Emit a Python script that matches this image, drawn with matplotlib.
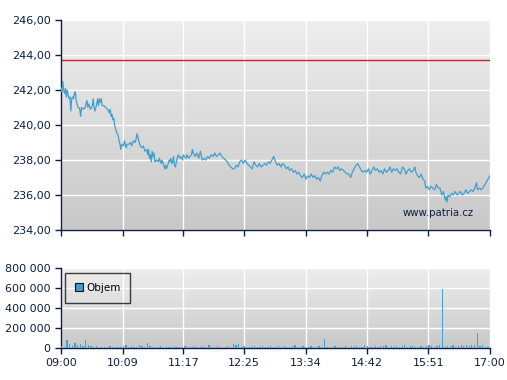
"""Intraday price and volume chart (patria.cz style)."""
import numpy as np
import matplotlib.pyplot as plt
from matplotlib.colors import LinearSegmentedColormap
from matplotlib.ticker import FuncFormatter

# --- data -----------------------------------------------------------------
# (minutes after 09:00, price)
price_points = [
    (0, 242.1), (1, 241.9), (2, 242.5), (3, 242.0), (4, 241.8), (5, 242.1),
    (6, 241.6), (7, 242.0), (8, 241.7), (9, 241.5), (10, 241.6), (11, 240.8),
    (12, 241.5), (13, 241.6), (14, 241.5), (15, 241.8), (16, 241.9), (17, 241.4),
    (18, 241.2), (19, 241.0), (20, 241.0), (21, 240.9), (22, 240.5), (23, 241.0),
    (25, 240.9), (27, 241.0), (29, 241.4), (30, 241.0), (31, 241.2), (33, 240.9),
    (35, 241.1), (36, 241.5), (37, 241.0), (38, 240.8), (40, 241.2), (41, 241.5),
    (42, 241.1), (43, 241.5), (44, 241.3), (45, 241.5), (46, 241.1), (48, 241.1),
    (50, 241.0), (52, 240.9), (54, 240.7), (55, 240.9), (56, 240.5), (57, 240.6),
    (58, 240.3), (59, 240.4), (60, 240.0), (62, 239.6), (64, 239.4), (65, 239.1),
    (66, 238.9), (67, 238.6), (68, 238.9), (70, 238.8), (71, 239.1), (72, 238.9),
    (73, 238.7), (74, 238.9), (76, 238.9), (78, 239.0), (79, 238.8), (81, 239.1),
    (83, 239.0), (84, 239.2), (85, 239.5), (86, 239.3), (87, 239.1), (88, 238.9),
    (90, 238.7), (92, 238.8), (94, 238.5), (96, 238.6), (97, 238.3), (98, 238.6),
    (99, 238.1), (100, 238.3), (101, 237.9), (102, 238.5), (103, 238.2), (104, 238.4),
    (105, 237.9), (107, 238.0), (109, 237.9), (110, 238.1), (112, 237.8), (113, 238.0),
    (115, 237.7), (116, 237.5), (117, 237.7), (118, 237.5), (120, 237.8), (121, 238.0),
    (122, 237.9), (123, 238.1), (124, 237.8), (125, 237.9), (126, 238.2), (127, 237.7),
    (128, 237.6), (130, 238.1), (131, 238.3), (133, 238.1), (134, 238.2), (136, 238.0),
    (137, 238.3), (138, 238.2), (140, 238.1), (141, 238.3), (143, 238.1), (144, 238.2),
    (146, 238.3), (147, 238.6), (148, 238.4), (150, 238.2), (152, 238.4), (154, 238.1),
    (156, 238.5), (158, 238.0), (160, 238.1), (162, 238.0), (164, 238.2), (166, 238.1),
    (168, 238.3), (170, 238.2), (172, 238.4), (174, 238.2), (176, 238.3), (178, 238.4),
    (180, 238.2), (182, 238.1), (184, 238.0), (186, 237.9), (188, 237.7), (190, 237.6),
    (192, 237.5), (194, 237.5), (196, 237.7), (198, 237.6), (200, 237.9), (202, 238.0),
    (204, 237.8), (206, 238.0), (208, 237.8), (210, 237.7), (212, 237.6), (214, 237.5),
    (216, 237.9), (218, 237.7), (220, 237.6), (222, 237.8), (224, 237.6), (226, 237.7),
    (228, 237.8), (230, 237.7), (232, 237.9), (234, 237.8), (236, 238.0), (238, 238.2),
    (240, 237.9), (242, 237.7), (244, 237.8), (246, 237.6), (248, 237.8), (250, 237.7),
    (252, 237.5), (254, 237.6), (256, 237.4), (258, 237.5), (260, 237.3), (262, 237.4),
    (264, 237.2), (266, 237.3), (268, 237.1), (270, 237.0), (272, 237.2), (274, 236.9),
    (276, 237.1), (278, 237.0), (280, 237.2), (282, 237.0), (284, 237.1), (286, 236.9),
    (288, 237.0), (290, 236.8), (292, 237.1), (294, 237.3), (296, 237.2), (298, 237.3),
    (300, 237.2), (302, 237.4), (304, 237.3), (306, 237.6), (308, 237.5), (310, 237.6),
    (312, 237.4), (314, 237.5), (316, 237.4), (318, 237.3), (320, 237.2), (322, 237.2),
    (324, 237.0), (326, 237.3), (328, 237.5), (330, 237.7), (332, 237.8), (334, 237.6),
    (336, 237.4), (338, 237.3), (340, 237.4), (342, 237.3), (344, 237.5), (346, 237.2),
    (348, 237.4), (350, 237.6), (352, 237.4), (354, 237.5), (356, 237.3), (358, 237.4),
    (360, 237.2), (362, 237.5), (364, 237.3), (366, 237.4), (368, 237.6), (370, 237.3),
    (372, 237.5), (374, 237.4), (376, 237.5), (378, 237.3), (380, 237.2), (382, 237.6),
    (384, 237.5), (386, 237.2), (388, 237.4), (390, 237.5), (392, 237.3), (394, 237.4),
    (396, 237.6), (397, 237.3), (399, 237.1), (401, 237.0), (403, 237.2), (405, 236.9),
    (407, 236.8), (408, 236.4), (410, 236.5), (412, 236.3), (414, 236.5), (416, 236.4),
    (418, 236.3), (420, 236.6), (422, 236.4), (424, 236.4), (426, 236.0), (428, 236.2),
    (430, 235.7), (431, 235.9), (432, 235.6), (433, 236.0), (435, 235.9), (437, 236.1),
    (439, 236.0), (441, 236.2), (443, 236.0), (445, 236.1), (447, 236.2), (449, 236.0),
    (451, 236.1), (453, 236.3), (455, 236.1), (457, 236.2), (459, 236.3), (461, 236.2),
    (463, 236.4), (465, 236.7), (466, 236.3), (468, 236.4), (470, 236.3), (472, 236.4),
    (480, 237.1),
]
price_min = [t for t, _ in price_points]
price_val = [p for _, p in price_points]
ref_price = 243.7

# traded volume, one value per 3-minute slot starting at 09:00
vol_step = 3
volume = [
    20000, 15000, 77000, 40000, 25000, 50000, 30000, 45000, 20000, 77000,
    35000, 25000, 15000, 20000, 10000, 15000, 10000, 12000, 20000, 15000,
    10000, 15000, 10000, 25000, 30000, 10000, 20000, 15000, 10000, 35000,
    20000, 15000, 50000, 20000, 15000, 12000, 10000, 20000, 15000, 10000,
    15000, 10000, 20000, 12000, 10000, 15000, 20000, 10000, 15000, 12000,
    25000, 10000, 15000, 20000, 10000, 30000, 15000, 10000, 20000, 15000,
    10000, 15000, 20000, 12000, 40000, 30000, 45000, 15000, 20000, 10000,
    15000, 12000, 20000, 15000, 10000, 25000, 15000, 10000, 20000, 12000,
    15000, 20000, 10000, 25000, 15000, 10000, 20000, 30000, 15000, 10000,
    20000, 15000, 12000, 20000, 10000, 15000, 20000, 10000, 87000, 15000,
    10000, 15000, 20000, 10000, 15000, 12000, 20000, 10000, 25000, 15000,
    20000, 10000, 15000, 35000, 20000, 15000, 10000, 20000, 15000, 25000,
    20000, 30000, 15000, 20000, 10000, 25000, 15000, 20000, 30000, 15000,
    20000, 25000, 15000, 10000, 20000, 15000, 25000, 30000, 20000, 15000,
    20000, 30000, 590000, 15000, 20000, 25000, 30000, 15000, 20000, 35000,
    25000, 30000, 20000, 35000, 30000, 150000, 25000, 30000, 10000, 15000,
]

x_ticks = [0, 69, 137, 205, 274, 342, 411, 480]
x_labels = ["09:00", "10:09", "11:17", "12:25", "13:34", "14:42", "15:51", "17:00"]

# --- style ------------------------------------------------------------------
navy = "#0b1e45"
blue = "#3f9fd0"
plt.rcParams["font.family"] = ["DejaVu Sans"]
plt.rcParams["font.size"] = 8

bg_cmap = LinearSegmentedColormap.from_list("bg", ["#eeeeee", "#c8c8c8"])


def style(ax):
    ax.set_facecolor("none")
    for side in ("top", "right"):
        ax.spines[side].set_visible(False)
    for side in ("left", "bottom"):
        ax.spines[side].set_color(navy)
        ax.spines[side].set_linewidth(1.0)
    ax.tick_params(colors=navy, labelcolor=navy, length=4, width=1.0, labelsize=8)
    ax.grid(True, color="white", linewidth=1.0, zorder=1)
    ax.set_axisbelow(True)
    # vertical background gradient
    grad = np.linspace(0, 1, 256).reshape(-1, 1)
    ax.imshow(grad, cmap=bg_cmap, aspect="auto", extent=(0, 1, 0, 1),
              transform=ax.transAxes, zorder=0)
    ax.set_xlim(0, 480)
    ax.set_xticks(x_ticks)


fig = plt.figure(figsize=(5.07, 3.8), dpi=100)
ax = fig.add_axes([61 / 507, 1 - 230 / 380, 429 / 507, 210 / 380])
axv = fig.add_axes([61 / 507, 1 - 348 / 380, 429 / 507, 80 / 380])

# price panel
style(ax)
ax.plot(price_min, price_val, color=blue, linewidth=0.9, zorder=3)
ax.axhline(ref_price, color="#d92020", linewidth=1, zorder=2)
ax.set_ylim(234, 246)
ax.set_yticks(np.arange(234, 247, 2))
ax.yaxis.set_major_formatter(FuncFormatter(lambda v, p: f"{v:.2f}".replace(".", ",")))
ax.set_xticklabels([])
ax.text(0.961, 0.08, "www.patria.cz", transform=ax.transAxes, ha="right",
        va="center", color=navy, fontsize=7.3, zorder=4)

# volume panel
style(axv)
vol_x = vol_step * np.arange(len(volume))
axv.bar(vol_x, volume, width=1.4, color=blue, align="edge", zorder=3, label="Objem")
axv.set_ylim(0, 800000)
axv.set_yticks([0, 200000, 400000, 600000, 800000])
axv.yaxis.set_major_formatter(FuncFormatter(lambda v, p: f"{int(v):,}".replace(",", " ")))
axv.set_xticklabels(x_labels)
leg = axv.legend(loc="upper left", frameon=True, fancybox=False, handlelength=0.75,
                 handleheight=0.75, borderpad=0.95, handletextpad=0.35,
                 borderaxespad=0, bbox_to_anchor=(0.009, 0.94), fontsize=7.5)
leg.get_frame().set_edgecolor("#111111")
leg.get_frame().set_facecolor("none")
leg.get_frame().set_linewidth(1)
for h in leg.legend_handles:
    h.set_edgecolor("#111111")
    h.set_linewidth(0.8)

fig.savefig("out.png", dpi=100)
